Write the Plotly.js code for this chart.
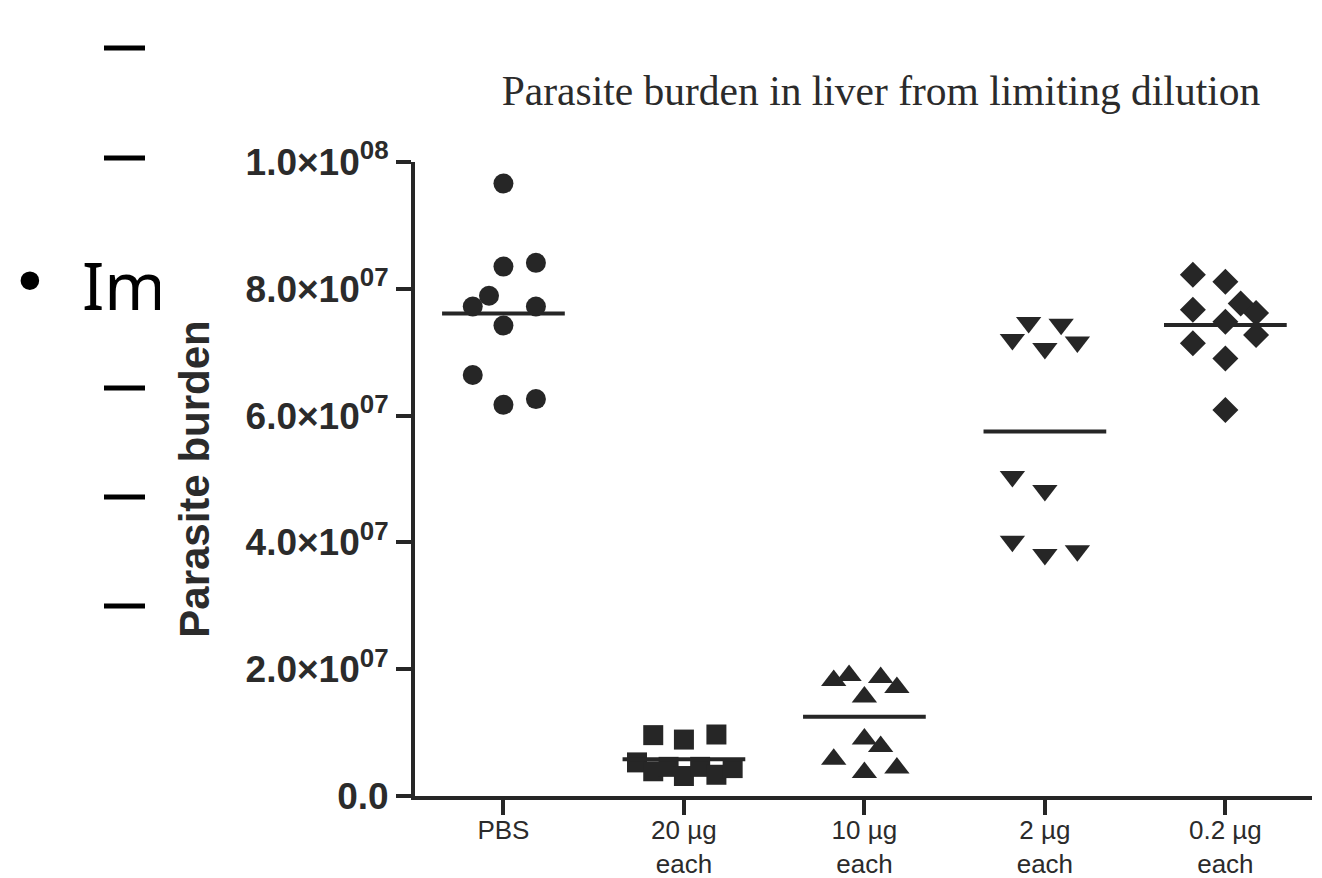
<!DOCTYPE html>
<html>
<head>
<meta charset="utf-8">
<script src="https://cdn.plot.ly/plotly-3.0.1.min.js"></script>
<style>html,body{margin:0;padding:0;background:#fff;}#chart{width:1322px;height:878px;}</style>
</head>
<body>
<div id="chart"></div>
<script>
// ---- data (values in millions of parasites) ----
var categories = ['PBS', '20 µg each', '10 µg each', '2 µg each', '0.2 µg each'];
var xTickText = ['PBS', '20 µg<br>each', '10 µg<br>each', '2 µg<br>each', '0.2 µg<br>each'];
var yTickVals = [0, 20, 40, 60, 80, 100];
var yTickText = ['0.0', '2.0×10<sup>07</sup>', '4.0×10<sup>07</sup>', '6.0×10<sup>07</sup>', '8.0×10<sup>07</sup>', '1.0×10<sup>08</sup>'];

var pbs  = [96.6, 83.5, 84.1, 78.9, 77.2, 77.2, 74.2, 66.4, 61.7, 62.6];
var ug20 = [9.6, 8.9, 9.7, 5.3, 3.9, 4.6, 3.15, 4.6, 3.35, 4.4];
var ug10 = [18.2, 19.0, 18.7, 17.1, 15.6, 9.0, 7.8, 5.8, 3.7, 4.4];
var ug2  = [72.0, 74.7, 74.4, 70.6, 71.6, 50.4, 48.2, 40.2, 38.1, 38.7];
var ug02 = [82.2, 81.1, 76.7, 77.7, 76.2, 74.8, 72.7, 71.4, 69.0, 60.9];
var means = [76.1, 5.8, 12.5, 57.5, 74.3];

// horizontal scatter (jitter) of each point within its column, in category units
var pbsJit  = [0, 0, 0.18, -0.08, -0.17, 0.18, 0, -0.17, 0, 0.18];
var ug20Jit = [-0.17, 0, 0.18, -0.26, -0.17, -0.085, 0, 0.09, 0.18, 0.27];
var ug10Jit = [-0.17, -0.085, 0.09, 0.18, 0, 0, 0.09, -0.17, 0, 0.18];
var ug2Jit  = [-0.18, -0.09, 0.09, 0, 0.18, -0.18, 0, -0.18, 0, 0.18];
var ug02Jit = [-0.18, 0, -0.18, 0.085, 0.17, 0, 0.17, -0.18, 0, 0];

// ---- build traces ----
var groups = [
  {vals: pbs,  jit: pbsJit,  symbol: 'circle',        size: 20},
  {vals: ug20, jit: ug20Jit, symbol: 'square',        size: 20},
  {vals: ug10, jit: ug10Jit, symbol: 'triangle-up',   size: 22},
  {vals: ug2,  jit: ug2Jit,  symbol: 'triangle-down', size: 22},
  {vals: ug02, jit: ug02Jit, symbol: 'diamond',       size: 20}
];
var ink = '#262626';
var traces = groups.map(function (g, i) {
  return {
    type: 'scatter', mode: 'markers', name: categories[i],
    x: g.vals.map(function (v, k) { return i + g.jit[k]; }),
    y: g.vals,
    cliponaxis: false,
    marker: {symbol: g.symbol, size: g.size, color: ink, line: {width: 0}},
    hoverinfo: 'x+y'
  };
});
var mx = [], my = [];
means.forEach(function (m, i) { mx.push(i - 0.34, i + 0.34, null); my.push(m, m, null); });
traces.push({type: 'scatter', mode: 'lines', name: 'Mean', x: mx, y: my,
             line: {color: ink, width: 4}, cliponaxis: false, hoverinfo: 'y'});

// ---- slide decorations (pixel helpers) ----
var L = 415, R = 1312, T = 162, B = 796;
function px(p) { return (p - L) / (R - L); }
function py(p) { return (B - p) / (B - T); }
var dashYs = [48, 158, 388, 497, 606];
var shapes = dashYs.map(function (y) {
  return {type: 'line', xref: 'paper', yref: 'paper', x0: px(104), x1: px(145), y0: py(y), y1: py(y),
          line: {color: '#000', width: 5}};
});

var layout = {
  width: 1322, height: 878,
  paper_bgcolor: '#fff', plot_bgcolor: '#fff',
  margin: {l: L, r: 1322 - R, t: T, b: 878 - B},
  showlegend: false,
  title: {text: 'Parasite burden in liver from limiting dilution',
          font: {family: 'Liberation Serif', size: 41.5, color: '#2b2b2b'},
          xref: 'paper', x: px(881), xanchor: 'center',
          yref: 'container', y: 1 - 90 / 878, yanchor: 'middle'},
  xaxis: {range: [-0.49, 4.48], tickvals: [0, 1, 2, 3, 4], ticktext: xTickText,
          showline: true, linecolor: ink, linewidth: 4, showgrid: false, zeroline: false,
          ticks: 'outside', ticklen: 15, tickwidth: 4, tickcolor: ink, ticklabelstandoff: -7,
          tickfont: {family: 'Liberation Sans', size: 26, color: '#2b2b2b'}, fixedrange: true},
  yaxis: {range: [0, 100], tickvals: yTickVals, ticktext: yTickText,
          showline: true, linecolor: ink, linewidth: 4, showgrid: false, zeroline: false,
          ticks: 'outside', ticklen: 15, tickwidth: 4, tickcolor: ink,
          tickfont: {family: 'Liberation Sans', size: 37, color: '#2b2b2b', weight: 'bold'},
          title: {text: 'Parasite burden', standoff: 24,
                  font: {family: 'Liberation Sans', size: 42, color: '#2b2b2b', weight: 'bold'}},
          fixedrange: true},
  shapes: shapes,
  annotations: [
    {xref: 'paper', yref: 'paper', x: px(30), y: py(283), text: '•', showarrow: false,
     xanchor: 'center', yanchor: 'middle', font: {family: 'DejaVu Sans', size: 64, color: '#000'}},
    {xref: 'paper', yref: 'paper', x: px(80), y: py(284), text: 'Im', showarrow: false,
     xanchor: 'left', yanchor: 'middle', align: 'left', width: 78,
     font: {family: 'Noto Sans', size: 66, color: '#000'}}
  ]
};

Plotly.newPlot('chart', traces, layout, {displayModeBar: false});
</script>
</body>
</html>
